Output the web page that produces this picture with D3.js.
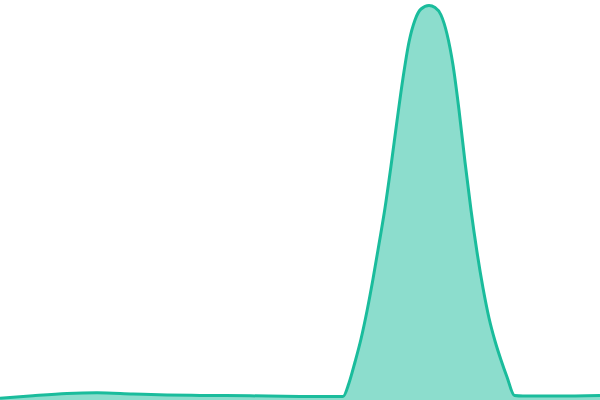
<!DOCTYPE html>
<html lang="en">

<head>
  <meta charset="UTF-8">
  <title>Density</title>
  <style>
    body { margin: 0; background: #fff; }
    svg { display: block; }
  </style>
</head>

<body>

  <script src="https://cdn.jsdelivr.net/npm/d3@7/dist/d3.min.js"></script>
  <script>
    var width = 600;
    var height = 400;

    // sample positions along the x axis and the density read at each one
    var positions = [0, 33, 67, 97, 133, 167, 200, 250, 300, 343,
      349, 355, 361, 367, 373, 379, 385, 391, 397, 403, 409, 415, 421, 429,
      435, 441, 447, 453, 459, 465, 471, 477, 483, 489, 495, 501, 507, 514.5,
      523, 557, 600];
    var density = [1.7, 4.3, 6.5, 7.2, 6, 5, 4.6, 4.2, 3.6, 3.5,
      17, 38, 61, 89, 121, 156, 192, 234, 279, 322, 358, 380, 391, 394.5,
      392.5, 385, 366, 335, 290, 238, 190, 148, 112, 82, 59, 40, 23, 4.5,
      4, 4, 4.6];

    var data = positions.map(function (p, i) { return { x: p, y: density[i] }; });

    var x = d3.scaleLinear().domain([0, 600]).range([0, width]);
    var y = d3.scaleLinear().domain([0, 400]).range([height, 0]);

    var svg = d3.select("body")
      .append("svg")
      .attr("width", width)
      .attr("height", height);

    var area = d3.area()
      .curve(d3.curveMonotoneX)
      .x(function (d) { return x(d.x); })
      .y0(y(0))
      .y1(function (d) { return y(d.y); });

    var line = d3.line()
      .curve(d3.curveMonotoneX)
      .x(function (d) { return x(d.x); })
      .y(function (d) { return y(d.y); });

    svg.append("path")
      .datum(data)
      .attr("d", area)
      .style("fill", "#1abc9c")
      .style("fill-opacity", 0.5);

    svg.append("path")
      .datum(data)
      .attr("d", line)
      .style("fill", "none")
      .style("stroke", "#1abc9c")
      .style("stroke-width", 3);
  </script>
</body>

</html>
